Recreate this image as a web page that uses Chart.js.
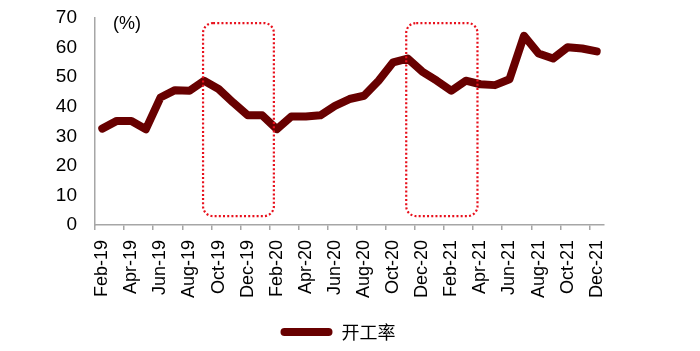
<!DOCTYPE html>
<html>
<head>
<meta charset="utf-8">
<script src="https://cdn.jsdelivr.net/npm/chart.js@4/dist/chart.umd.min.js"></script>
<style>
  html, body { margin: 0; padding: 0; background: #fff; }
  #wrap { width: 700px; height: 351px; }
</style>
</head>
<body>
<div id="wrap"><canvas id="rateChart"></canvas></div>
<script>
// 月份 (Feb-19 .. Dec-21)
const months = [
    'Feb-19', 'Mar-19', 'Apr-19', 'May-19', 'Jun-19', 'Jul-19', 'Aug-19', 'Sep-19', 'Oct-19', 'Nov-19', 'Dec-19',
    'Jan-20', 'Feb-20', 'Mar-20', 'Apr-20', 'May-20', 'Jun-20', 'Jul-20', 'Aug-20', 'Sep-20', 'Oct-20', 'Nov-20', 'Dec-20',
    'Jan-21', 'Feb-21', 'Mar-21', 'Apr-21', 'May-21', 'Jun-21', 'Jul-21', 'Aug-21', 'Sep-21', 'Oct-21', 'Nov-21', 'Dec-21'
];

// 开工率 (%)
const rate = [
    32.6, 35.2, 35.2, 32.4, 43.1, 45.6, 45.4, 48.8, 46.0, 41.4, 37.1,
    37.1, 32.4, 36.7, 36.7, 37.1, 40.3, 42.6, 43.7, 48.8, 55.0, 56.3, 51.9,
    48.8, 45.4, 48.8, 47.6, 47.3, 49.3, 64.0, 58.0, 56.3, 60.1, 59.7, 58.7
];

const yTicks = [0, 10, 20, 30, 40, 50, 60, 70];

// highlighted periods, in category index / value units
const highlightFrom = [6.93, 20.9];
const highlightTo = [11.8, 25.8];
const highlightLow = 3.0;
const highlightHigh = 68.3;

const lineColor = '#680000';

const highlightPlugin = {
    id: 'highlightBoxes',
    afterLayout(chart) {
        // legend sits a bit right of centre in the original
        chart.legend.left += 36;
        chart.legend.right += 36;
    },
    afterDatasetsDraw(chart) {
        const { ctx, scales: { x, y }, chartArea } = chart;
        ctx.save();
        ctx.strokeStyle = '#e8101c';
        ctx.lineWidth = 2.2;
        ctx.setLineDash([2, 2.2]);
        highlightFrom.forEach((from, i) => {
            const left = x.getPixelForValue(from);
            const right = x.getPixelForValue(highlightTo[i]);
            const top = y.getPixelForValue(highlightHigh);
            const bottom = y.getPixelForValue(highlightLow);
            ctx.beginPath();
            ctx.roundRect(left, top, right - left, bottom - top, 10);
            ctx.stroke();
        });
        ctx.setLineDash([]);
        // unit label
        ctx.fillStyle = '#000';
        ctx.font = '18px "Liberation Sans", Arial, sans-serif';
        ctx.textBaseline = 'middle';
        ctx.fillText('(%)', chartArea.left + 18, chartArea.top + 6);
        ctx.restore();
    }
};

const ctx = document.getElementById('rateChart').getContext('2d');

new Chart(ctx, {
    type: 'line',
    data: {
        labels: months,
        datasets: [{
            label: '开工率',
            data: rate,
            borderColor: lineColor,
            backgroundColor: lineColor,
            borderWidth: 8,
            borderCapStyle: 'round',
            borderJoinStyle: 'round',
            pointRadius: 0,
            tension: 0,
            fill: false
        }]
    },
    options: {
        responsive: true,
        maintainAspectRatio: false,
        animation: false,
        layout: {
            padding: { top: 18, right: 96, bottom: 0, left: 0 }
        },
        plugins: {
            tooltip: { enabled: false },
            legend: {
                position: 'bottom',
                labels: {
                    color: '#000',
                    font: { family: '"Noto Sans CJK SC", sans-serif', size: 18 },
                    boxWidth: 52,
                    boxHeight: 8,
                    useBorderRadius: true,
                    borderRadius: 4,
                    padding: 10,
                    generateLabels: chart =>
                        Chart.defaults.plugins.legend.labels.generateLabels(chart)
                            .map(item => ({ ...item, lineWidth: 0 }))
                }
            }
        },
        scales: {
            x: {
                offset: true,
                afterFit: scale => {
                    scale.height = 88;
                },
                grid: {
                    offset: true,
                    drawOnChartArea: false,
                    drawTicks: true,
                    tickLength: 5,
                    color: c => (c.index % 2 === 0 ? '#a6a6a6' : 'transparent'),
                    lineWidth: 1.5
                },
                border: { color: '#a6a6a6', width: 1.5 },
                ticks: {
                    autoSkip: false,
                    minRotation: 90,
                    maxRotation: 90,
                    padding: 10,
                    color: '#000',
                    font: { family: '"Liberation Sans", Arial, sans-serif', size: 18 },
                    callback: (v, i) => (i % 2 === 0 ? months[i] : '')
                }
            },
            y: {
                min: 0,
                max: 70,
                afterBuildTicks: scale => {
                    scale.ticks = yTicks.map(v => ({ value: v }));
                },
                afterFit: scale => {
                    scale.width = 95;
                },
                grid: {
                    drawOnChartArea: false,
                    drawTicks: true,
                    tickLength: 15,
                    color: 'transparent'
                },
                border: { color: '#a6a6a6', width: 1.5 },
                ticks: {
                    padding: 3,
                    color: '#000',
                    font: { family: '"Liberation Sans", Arial, sans-serif', size: 19 }
                }
            }
        }
    },
    plugins: [highlightPlugin]
});
</script>
</body>
</html>
